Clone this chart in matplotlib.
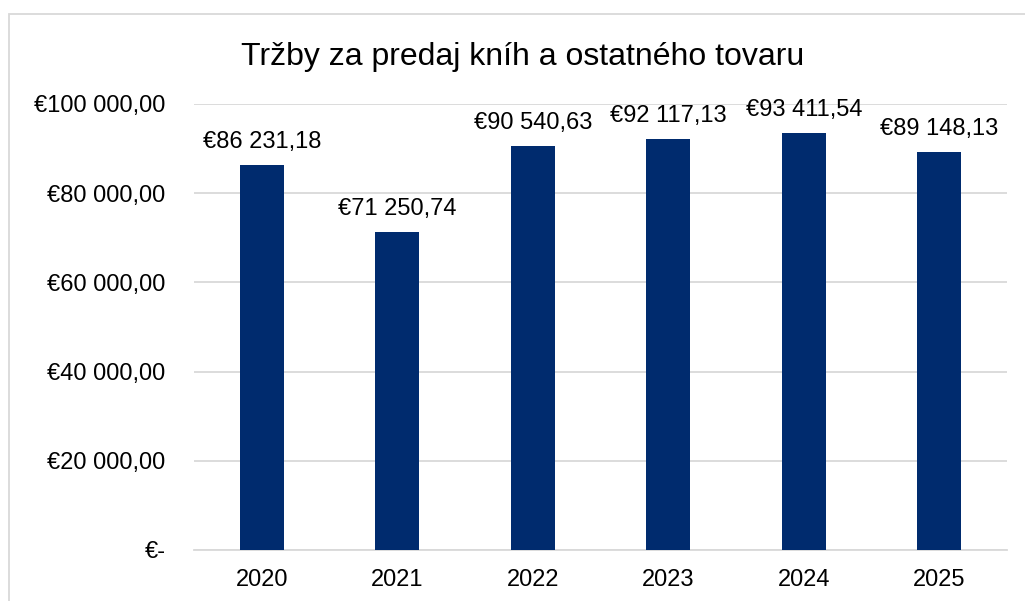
import matplotlib
matplotlib.use("Agg")
import matplotlib.pyplot as plt
from matplotlib.patches import Rectangle

years = ["2020", "2021", "2022", "2023", "2024", "2025"]
sales = [86231.18, 71250.74, 90540.63, 92117.13, 93411.54, 89148.13]
y_ticks = [0, 20000, 40000, 60000, 80000, 100000]
y_tick_labels = ["€-", "€20 000,00", "€40 000,00", "€60 000,00", "€80 000,00", "€100 000,00"]
title = "Tržby za predaj kníh a ostatného tovaru"


def euro(v):
    s = f"{v:,.2f}".replace(",", " ").replace(".", ",")
    return "€" + s


plt.rcParams['font.family'] = ['Liberation Sans', 'DejaVu Sans']

fig = plt.figure(figsize=(10.25, 6.01), dpi=100)
# chart area border
fig.patches.append(Rectangle((9 / 1025, -0.1), 1.2, 1 - 14 / 601 + 0.1, transform=fig.transFigure,
                             fill=False, edgecolor='#D9D9D9', linewidth=1.3))

ax = fig.add_axes([194 / 1025, 1 - 550 / 601, (1007 - 194) / 1025, (550 - 104) / 601])
x = range(len(years))
ax.bar(x, sales, width=0.325, color='#002B6E', zorder=3)

ax.set_xlim(-0.5, len(years) - 0.5)
ax.set_ylim(0, 100000)
ax.set_yticks(y_ticks)
ax.set_yticklabels(y_tick_labels)
ax.set_xticks(list(x))
ax.set_xticklabels(years)
ax.tick_params(axis='both', length=0, labelsize=17, colors='black')
ax.tick_params(axis='y', pad=20.5)
ax.tick_params(axis='x', pad=13.5)
ax.grid(axis='y', color='#D9D9D9', linewidth=1.3, zorder=0)
for s in ['top', 'right', 'left']:
    ax.spines[s].set_visible(False)
ax.spines['bottom'].set_color('#D9D9D9')
ax.spines['bottom'].set_linewidth(1.3)

for i, v in enumerate(sales):
    ax.annotate(euro(v), (i, v), xytext=(0, 9), textcoords='offset points',
                ha='center', va='bottom', fontsize=17)

fig.text(523 / 1025, 1 - 57 / 601, title, ha='center', va='center', fontsize=23)

fig.savefig("out.png", dpi=100)
